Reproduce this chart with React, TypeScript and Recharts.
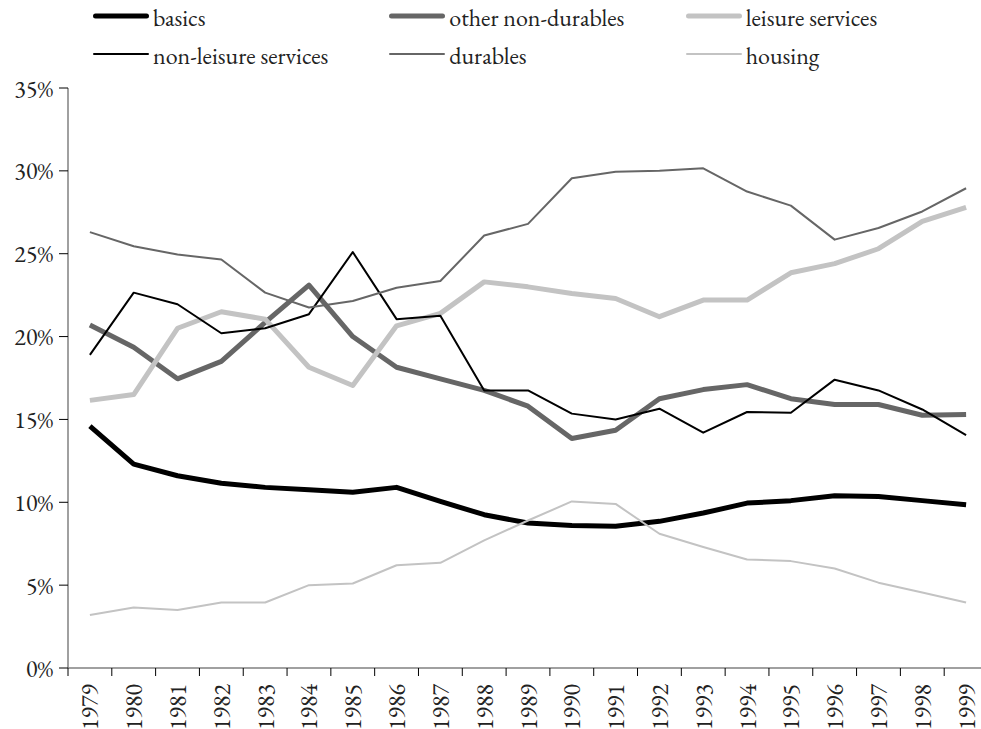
import React from 'react'
import { LineChart, Line, XAxis, YAxis, Legend } from 'recharts'

const years = [
  '1979', '1980', '1981', '1982', '1983', '1984', '1985', '1986', '1987', '1988', '1989',
  '1990', '1991', '1992', '1993', '1994', '1995', '1996', '1997', '1998', '1999',
]

// shares of spending, %
const basics = [14.6, 12.3, 11.6, 11.15, 10.9, 10.75, 10.6, 10.9, 10.05, 9.25, 8.75, 8.6, 8.55, 8.85, 9.35, 9.95, 10.1, 10.4, 10.35, 10.1, 9.85]
const otherNonDurables = [20.7, 19.35, 17.45, 18.5, 20.85, 23.1, 20.0, 18.15, 17.45, 16.75, 15.8, 13.85, 14.35, 16.25, 16.8, 17.1, 16.25, 15.9, 15.9, 15.25, 15.3]
const leisureServices = [16.15, 16.5, 20.5, 21.5, 21.05, 18.15, 17.05, 20.65, 21.4, 23.3, 23.0, 22.6, 22.3, 21.2, 22.2, 22.2, 23.85, 24.4, 25.3, 26.95, 27.8]
const nonLeisureServices = [18.9, 22.65, 21.95, 20.2, 20.5, 21.35, 25.1, 21.05, 21.25, 16.75, 16.75, 15.35, 15.0, 15.65, 14.2, 15.45, 15.4, 17.4, 16.75, 15.6, 14.05]
const durables = [26.3, 25.45, 24.95, 24.65, 22.65, 21.75, 22.15, 22.95, 23.35, 26.1, 26.8, 29.55, 29.95, 30.0, 30.15, 28.75, 27.9, 25.85, 26.55, 27.55, 28.95]
const housing = [3.2, 3.65, 3.5, 3.95, 3.95, 5.0, 5.1, 6.2, 6.35, 7.7, 8.9, 10.05, 9.9, 8.1, 7.3, 6.55, 6.45, 6.0, 5.15, 4.55, 3.95]

const yTicks = [0, 5, 10, 15, 20, 25, 30, 35]

const data = years.map((year, i) => ({
  year,
  basics: basics[i],
  otherNonDurables: otherNonDurables[i],
  leisureServices: leisureServices[i],
  nonLeisureServices: nonLeisureServices[i],
  durables: durables[i],
  housing: housing[i],
}))

const series = [
  { key: 'basics', name: 'basics', color: '#000000', width: 5 },
  { key: 'otherNonDurables', name: 'other non-durables', color: '#666666', width: 5 },
  { key: 'leisureServices', name: 'leisure services', color: '#c3c3c3', width: 5 },
  { key: 'nonLeisureServices', name: 'non-leisure services', color: '#000000', width: 2 },
  { key: 'durables', name: 'durables', color: '#666666', width: 2 },
  { key: 'housing', name: 'housing', color: '#c3c3c3', width: 2 },
]

const FONT = "'EB Garamond', 'Liberation Serif'"
const TEXT_STYLE = { fontFamily: FONT, fontVariantNumeric: 'lining-nums' as const }
const CHART_W = 990
const CHART_H = 729
const LEFT = 68
const RIGHT = 2
const BAND = (CHART_W - LEFT - RIGHT) / years.length

function YearTick(props: any) {
  const { x, y, payload } = props
  return (
    <g>
      <line x1={x - BAND / 2} y1={y} x2={x - BAND / 2} y2={y + 8} stroke="#000" strokeWidth={1} />
      <text
        x={x}
        y={y + 16}
        transform={`rotate(-90, ${x}, ${y + 16})`}
        textAnchor="end"
        dominantBaseline="central"
        style={{ ...TEXT_STYLE, fontSize: 24 }}
        fill="#222"
      >
        {payload.value}
      </text>
    </g>
  )
}

function LegendBox() {
  const rows = [series.slice(0, 3), series.slice(3, 6)]
  return (
    <div style={{ ...TEXT_STYLE, fontSize: 24, color: '#222', lineHeight: 1, marginTop: -3 }}>
      {rows.map((row, r) => (
        <div key={r} style={{ display: 'flex', height: 38, alignItems: 'center', marginLeft: 92 }}>
          {row.map((s) => (
            <div key={s.key} style={{ display: 'flex', alignItems: 'center', width: 313 }}>
              <svg width={60} height={10} style={{ marginRight: 1 }}>
                <line
                  x1={s.width / 2 + 1}
                  y1={5}
                  x2={57 - s.width / 2}
                  y2={5}
                  stroke={s.color}
                  strokeWidth={s.width}
                  strokeLinecap="round"
                />
              </svg>
              <span style={{ marginTop: 3 }}>{s.name}</span>
            </div>
          ))}
        </div>
      ))}
    </div>
  )
}

export default function App() {
  return (
    <div style={{ position: 'absolute', left: 0, top: 0, width: 981, height: 729, overflow: 'hidden', background: '#fff', fontFamily: FONT }}>
      <LineChart
        width={CHART_W}
        height={CHART_H}
        data={data}
        margin={{ top: 88, right: RIGHT, left: 0, bottom: 0 }}
        style={TEXT_STYLE}
      >
        <XAxis
          dataKey="year"
          interval={0}
          height={61}
          padding={{ left: BAND / 2, right: BAND / 2 }}
          tickSize={0}
          tickMargin={0}
          tickLine={false}
          axisLine={{ stroke: '#808080', strokeWidth: 1.5 }}
          tick={<YearTick />}
        />
        <YAxis
          width={LEFT}
          domain={[0, 35]}
          ticks={yTicks}
          interval={0}
          tickSize={9}
          tickMargin={6}
          tickFormatter={(v) => `${v}%`}
          axisLine={{ stroke: '#808080', strokeWidth: 1.5 }}
          tickLine={{ stroke: '#000' }}
          tick={{ fontSize: 24, fill: '#222', style: TEXT_STYLE }}
        />
        <Legend
          layout="horizontal"
          verticalAlign="middle"
          align="center"
          wrapperStyle={{ top: 0, left: 0, width: 981 }}
          content={<LegendBox />}
        />
        {series.map((s) => (
          <Line
            key={s.key}
            type="linear"
            dataKey={s.key}
            name={s.name}
            stroke={s.color}
            strokeWidth={s.width}
            strokeLinejoin="round"
            dot={false}
            activeDot={false}
            isAnimationActive={false}
          />
        ))}
      </LineChart>
    </div>
  )
}
